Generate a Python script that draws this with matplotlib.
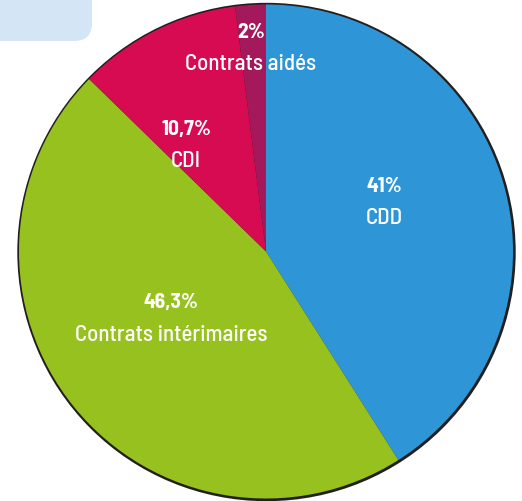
import matplotlib
matplotlib.use("Agg")
import matplotlib.pyplot as plt
from matplotlib.patches import Circle, FancyBboxPatch

# data
categories = ["CDD", "Contrats intérimaires", "CDI", "Contrats aidés"]
shares = [41, 46.3, 10.7, 2]
pct_labels = ["41%", "46,3%", "10,7%", "2%"]
colors = ["#2e96d6", "#97c11f", "#d60b51", "#a3195b"]

W, H = 522, 501
fig = plt.figure(figsize=(W / 100, H / 100), dpi=100)
ax = fig.add_axes([0, 0, 1, 1])

cx, cy, r = 266, H - 251.5, 247

# light blue tab at top left
ax.add_patch(FancyBboxPatch((-40, H - 41), 132, 90,
                            boxstyle="round,pad=0,rounding_size=18",
                            fc="#d4e5f5", ec="none"))

# dark rim
ax.add_patch(Circle((cx + 0.5, cy - 0.5), r + 2.2, fc="#231f20", ec="none"))

ax.pie(shares, colors=colors, startangle=90, counterclock=False,
       center=(cx, cy), radius=r, frame=True,
       wedgeprops=dict(linewidth=0))
ax.set_xlim(0, W)
ax.set_ylim(0, H)
ax.set_aspect("equal")
ax.axis("off")

# label positions in pixels (x, y from top)
label_pos = {"CDD": (384, 186), "Contrats intérimaires": (171, 303),
             "CDI": (186, 129), "Contrats aidés": (251, 32)}
fam = ["Barlow Semi Condensed", "DejaVu Sans"]
for cat, pct in zip(categories, pct_labels):
    x, y = label_pos[cat]
    ax.text(x, H - y, pct, ha="center", va="center", color="white",
            fontsize=15.5, fontweight=700, family=fam)
    ax.text(x, H - y - 32, cat, ha="center", va="center", color="white",
            fontsize=16.5, fontweight=500, family=fam)

fig.savefig("out.png", dpi=100)
